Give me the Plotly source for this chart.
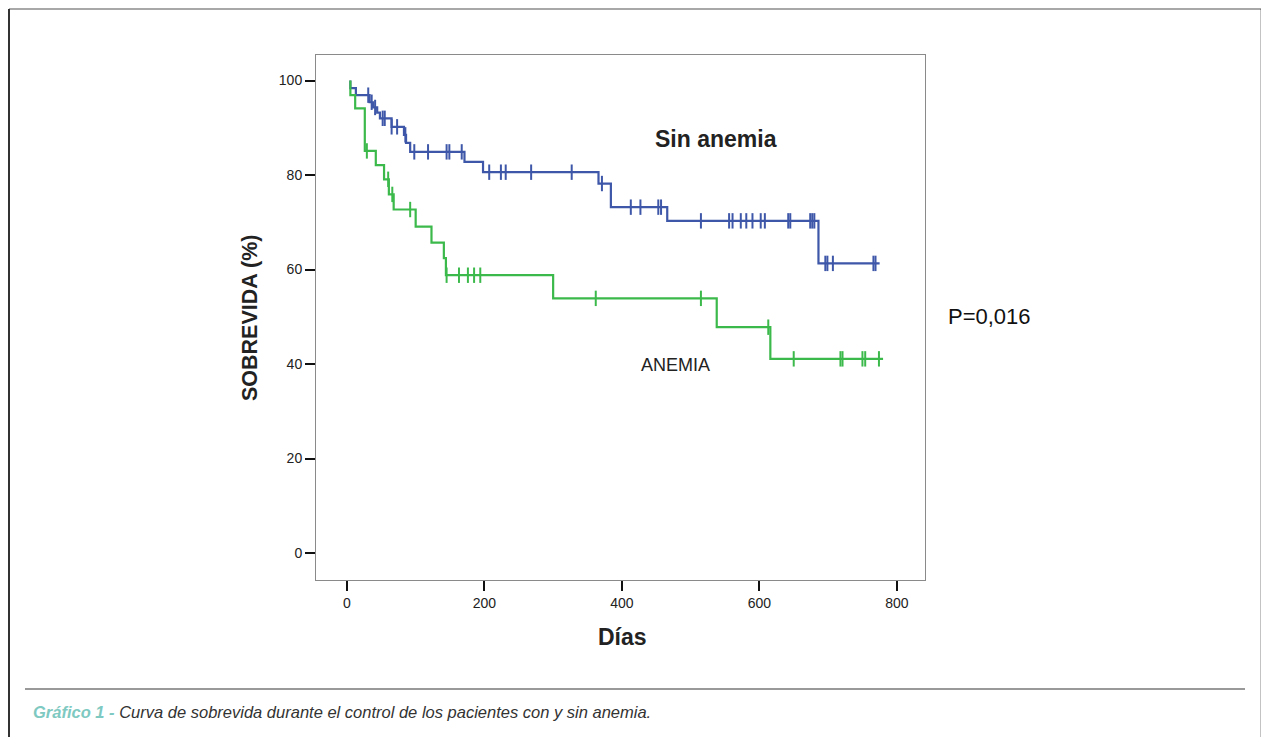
import plotly.graph_objects as go

# ---------------- data ----------------
# "Sin anemia" (blue) Kaplan-Meier steps: event day and survival (%) after the step
sin_start_day = 5
sin_event_days = [5, 13, 33, 38, 44, 48, 65, 83, 86, 92, 171, 198, 366, 384, 466, 686]
sin_event_surv = [98.4, 96.9, 95.4, 94.3, 93.2, 92.0, 90.2, 88.5, 86.8, 84.9, 82.8, 80.6, 78.2, 73.2, 70.3, 61.3]
sin_end_day = 775
sin_censored = [31, 36, 41, 52, 55, 65, 73, 85, 98, 118, 145, 149, 167, 207, 224, 231, 268, 327,
                371, 413, 427, 453, 457, 515, 556, 561, 573, 581, 590, 602, 608, 642, 645,
                674, 677, 680, 696, 699, 707, 766, 769]

# "ANEMIA" (green)
an_start_day = 5
an_event_days = [5, 12, 26, 42, 54, 61, 68, 100, 123, 141, 144, 300, 538, 616]
an_event_surv = [96.9, 94.1, 85.1, 82.1, 79.1, 75.9, 72.7, 69.1, 65.7, 62.4, 58.8, 53.9, 47.8, 41.1]
an_end_day = 780
an_censored = [29, 60, 66, 92, 145, 163, 176, 185, 194, 362, 515, 613, 650, 718, 721, 750, 754, 774]

x_ticks = [0, 200, 400, 600, 800]
y_ticks = [0, 20, 40, 60, 80, 100]

BLUE = "#3e57a8"
GREEN = "#3cb94b"


def step_xy(start, days, surv, end):
    xs, ys = [start], [100.0]
    for d, s in zip(days, surv):
        xs.append(d); ys.append(ys[-1])
        xs.append(d); ys.append(s)
    xs.append(end); ys.append(ys[-1])
    return xs, ys


def surv_at(t, days, surv):
    v = 100.0
    for d, s in zip(days, surv):
        if d <= t:
            v = s
    return v


fig = go.Figure()
for start, days, surv, end, cens, col, name in [
    (sin_start_day, sin_event_days, sin_event_surv, sin_end_day, sin_censored, BLUE, "Sin anemia"),
    (an_start_day, an_event_days, an_event_surv, an_end_day, an_censored, GREEN, "ANEMIA"),
]:
    xs, ys = step_xy(start, days, surv, end)
    fig.add_trace(go.Scatter(x=xs, y=ys, mode="lines", line=dict(color=col, width=2.2),
                             name=name, showlegend=False, hoverinfo="skip"))
    fig.add_trace(go.Scatter(x=cens, y=[surv_at(c, days, surv) for c in cens], mode="markers",
                             marker=dict(symbol="line-ns", size=11, line=dict(color=col, width=2)),
                             showlegend=False, hoverinfo="skip"))

# ---------------- layout ----------------
# page has an 8px body margin, so figure coordinates are page coordinates minus 8
OFF = 8
L, R, T, B = 316 - OFF, 925 - OFF, 55 - OFF, 580 - OFF
W, H = 1269 - OFF, 737 - OFF


def px(X):
    return (X - OFF - L) / (R - L)


def py(Y):
    return (B - (Y - OFF)) / (B - T)


axis_common = dict(showgrid=False, zeroline=False, showline=True, mirror=True,
                   linecolor="#8a8a8a", linewidth=1, ticks="outside", ticklen=10,
                   tickwidth=2, tickcolor="#111",
                   tickfont=dict(family="Liberation Sans, Arial", size=14, color="#222"))

fig.update_layout(
    width=W, height=H,
    margin=dict(l=L, r=W - R, t=T, b=H - B),
    paper_bgcolor="white", plot_bgcolor="white",
    xaxis=dict(range=[-45, 841], tickvals=x_ticks, **axis_common),
    yaxis=dict(range=[-5.7, 105.4], tickvals=y_ticks, **axis_common),
)

font_main = "Liberation Sans, Arial"
ann = [
    dict(text="<b>Sin anemia</b>", x=px(716), y=py(139), size=23, color="#222"),
    dict(text="ANEMIA", x=px(675), y=py(365), size=18, color="#222"),
    dict(text="P=0,016", x=px(989), y=py(316), size=22, color="#111"),
    dict(text="<b>Días</b>", x=px(622), y=py(637), size=23, color="#222"),
]
for a in ann:
    fig.add_annotation(text=a["text"], x=a["x"], y=a["y"], xref="paper", yref="paper",
                       showarrow=False, xanchor="center", yanchor="middle",
                       font=dict(family=font_main, size=a["size"], color=a["color"]))
fig.add_annotation(text="<b>SOBREVIDA (%)</b>", x=px(250), y=py(318), xref="paper", yref="paper",
                   showarrow=False, textangle=-90, xanchor="center", yanchor="middle",
                   font=dict(family=font_main, size=21.5, color="#222"))

fig.add_annotation(
    text="<i><span style='color:#7ec9c1'><b>Gráfico 1 - </b></span>"
         "Curva de sobrevida durante el control de los pacientes con y sin anemia.</i>",
    x=px(31), y=py(712), xref="paper", yref="paper", showarrow=False,
    xanchor="left", yanchor="middle",
    font=dict(family="Liberation Sans Narrow, Arial Narrow, Liberation Sans", size=16.5, color="#333"))

# outer frame and separator
shapes = [
    dict(type="line", x0=px(9), x1=px(1262), y0=py(9), y1=py(9), line=dict(color="#a8a8a8", width=2)),
    dict(type="line", x0=px(9), x1=px(9), y0=py(9), y1=py(745), line=dict(color="#333", width=2)),
    dict(type="line", x0=px(1262), x1=px(1262), y0=py(9), y1=py(745), line=dict(color="#111", width=2.5)),
    dict(type="line", x0=px(25), x1=px(1245), y0=py(689), y1=py(689), line=dict(color="#777", width=1.5)),
]
for s in shapes:
    s.update(xref="paper", yref="paper")
    fig.add_shape(**s)

fig.write_html("out.html")
